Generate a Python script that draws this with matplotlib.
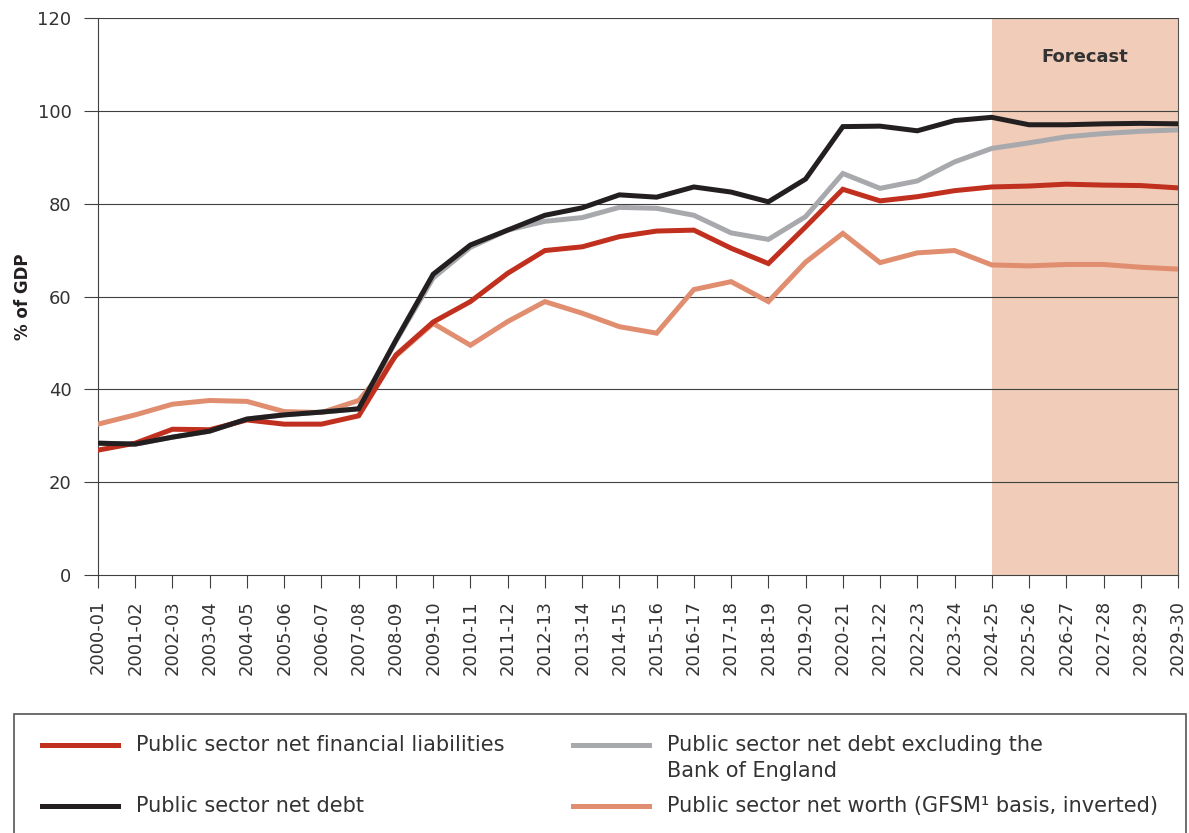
import matplotlib
matplotlib.use("Agg")
import matplotlib.pyplot as plt
from matplotlib.patches import Rectangle
from matplotlib.lines import Line2D

plt.rcParams['font.family'] = ['DejaVu Sans']

# -------------------------------
# Data (% of GDP)
# -------------------------------
years = ["2000-01", "2001-02", "2002-03", "2003-04", "2004-05", "2005-06",
         "2006-07", "2007-08", "2008-09", "2009-10", "2010-11", "2011-12",
         "2012-13", "2013-14", "2014-15", "2015-16", "2016-17", "2017-18",
         "2018-19", "2019-20", "2020-21", "2021-22", "2022-23", "2023-24",
         "2024-25", "2025-26", "2026-27", "2027-28", "2028-29", "2029-30"]

psnfl = [26.9, 28.4, 31.4, 31.3, 33.4, 32.5, 32.5, 34.3, 47.4, 54.5,
         58.9, 65.0, 69.9, 70.7, 72.9, 74.1, 74.3, 70.4, 67.1, 75.0,
         83.1, 80.6, 81.5, 82.8, 83.6, 83.8, 84.2, 84.0, 83.9, 83.4]

psnd = [28.4, 28.2, 29.7, 31.0, 33.6, 34.5, 35.1, 35.8, 50.6, 64.8,
        71.1, 74.3, 77.5, 79.1, 81.9, 81.4, 83.6, 82.5, 80.4, 85.3,
        96.6, 96.7, 95.7, 97.9, 98.6, 97.0, 97.0, 97.2, 97.3, 97.2]

psnd_ex_boe = [28.4, 28.2, 29.7, 31.0, 33.6, 34.5, 35.1, 35.8, 50.4, 64.0,
               70.6, 74.3, 76.2, 77.0, 79.2, 79.0, 77.5, 73.7, 72.3, 77.2,
               86.5, 83.3, 84.9, 89.0, 91.9, 93.1, 94.4, 95.1, 95.6, 95.9]

psnw_inv = [32.5, 34.5, 36.8, 37.6, 37.4, 35.2, 35.0, 37.6, 47.2, 54.2,
            49.5, 54.6, 58.9, 56.4, 53.5, 52.1, 61.5, 63.2, 58.9, 67.4,
            73.6, 67.3, 69.4, 69.9, 66.8, 66.6, 66.9, 66.9, 66.3, 65.9]

forecast_start = "2024-25"
yticks = [0, 20, 40, 60, 80, 100, 120]

# colours
red = '#C12F1E'
black = '#231F20'
grey = '#A7A9AC'
salmon = '#E08E6F'
shade = '#F0CCB9'
txt = '#333333'

# -------------------------------
# Plot
# -------------------------------
W, H = 1189, 833
fig = plt.figure(figsize=(W / 100, H / 100), dpi=100)
ax = fig.add_axes([98/W, 1 - 575/H, 1080/W, 557/H])

x = list(range(len(years)))
fs = years.index(forecast_start)
ax.axvspan(fs, len(years) - 1, color=shade, lw=0, zorder=0)

for v in yticks[1:]:
    ax.axhline(v, color='#404040', lw=0.8, zorder=1)

lw = 3.6
ax.plot(x, psnw_inv, color=salmon, lw=lw, zorder=3, solid_joinstyle='miter')
ax.plot(x, psnd_ex_boe, color=grey, lw=lw, zorder=4, solid_joinstyle='miter')
ax.plot(x, psnfl, color=red, lw=lw, zorder=5, solid_joinstyle='miter')
ax.plot(x, psnd, color=black, lw=lw, zorder=6, solid_joinstyle='miter')

ax.text((fs + len(years) - 1) / 2, 111.6, "Forecast", ha='center', va='center',
        fontsize=13, fontweight='bold', color=txt)

ax.set_xlim(0, len(years) - 1)
ax.set_ylim(0, 120)
ax.set_xticks(x)
ax.set_xticklabels(years, rotation=90, fontsize=13, color=txt)
ax.set_yticks(yticks)
ax.set_yticklabels([str(v) for v in yticks], fontsize=13, color=txt)
ax.tick_params(axis='y', length=10, width=0.8, pad=9, color='#404040')
ax.tick_params(axis='x', length=9, width=0.8, pad=9, color='#404040')
ax.spines['top'].set_visible(False)
for s in ['left', 'bottom', 'right']:
    ax.spines[s].set_color('#404040')
    ax.spines[s].set_linewidth(0.8)
ax.spines['right'].set_color('#555555')

ax.set_ylabel("% of GDP", fontsize=12, fontweight='bold', color=black)
ax.yaxis.set_label_coords(-0.061, 0.5)

# -------------------------------
# Legend box (bottom runs off the figure), drawn by hand
# -------------------------------
fig.patches.append(Rectangle((14/W, -0.05), 1172/W, 0.05 + 119/H,
                             transform=fig.transFigure, fill=False,
                             edgecolor='#555555', lw=1.2))

entries = [
    (red, "Public sector net financial liabilities", 42, 745),
    (black, "Public sector net debt", 42, 806),
    (grey, "Public sector net debt excluding the\nBank of England", 573, 745),
    (salmon, "Public sector net worth (GFSM\u00b9 basis, inverted)", 573, 806),
]
for colour, label, x0, y0 in entries:
    fig.add_artist(Line2D([x0/W, (x0 + 76)/W], [1 - y0/H, 1 - y0/H],
                          transform=fig.transFigure, color=colour, lw=lw))
    fig.text((x0 + 94)/W, 1 - y0/H + 0.012, label, fontsize=15, color=txt,
             ha='left', va='top', linespacing=1.4)

fig.savefig("out.png", dpi=100)
